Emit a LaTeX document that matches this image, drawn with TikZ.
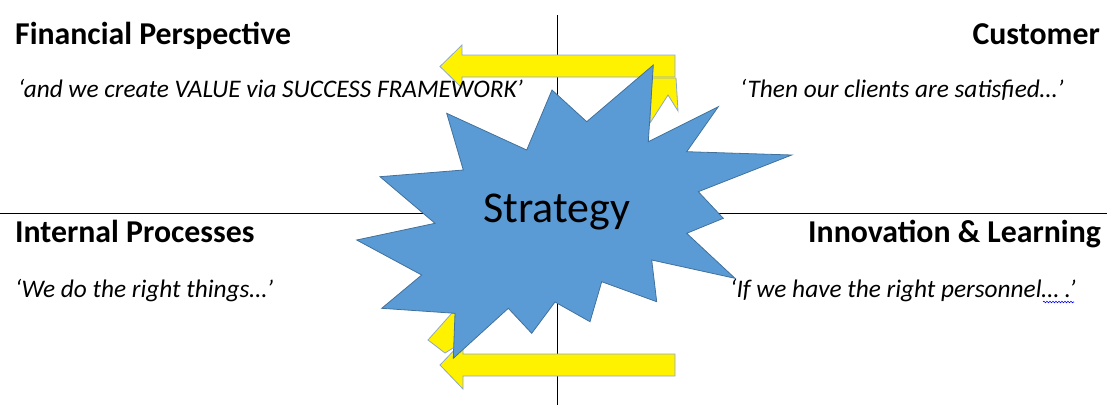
\documentclass[tikz,border=0pt]{standalone}
\usepackage{fontspec}
\setmainfont{Carlito}
\usetikzlibrary{decorations.pathmorphing}
\definecolor{azulstar}{HTML}{5B9BD5}
\definecolor{bordestar}{HTML}{41719C}
\definecolor{bordeflecha}{HTML}{8FA8C8}

\begin{document}
\begin{tikzpicture}[x=1pt,y=-1pt]

	\tikzstyle{eje} = [black, line width=0.8pt]
	\tikzstyle{titulo} = [font=\fontsize{31.8}{36}\selectfont\bfseries, inner sep=0pt]
	\tikzstyle{frase} = [font=\fontsize{25.3}{30}\selectfont\itshape, inner sep=0pt]
	\tikzstyle{flecha} = [fill=yellow, draw=bordeflecha, line width=0.8pt]
	\tikzstyle{estrella} = [fill=azulstar, draw=bordestar, line width=0.8pt]

	\useasboundingbox (0,0) rectangle (1107,405);

	% ejes
	\coordinate (arriba) at (557,15);
	\coordinate (abajo) at (557,405);
	\coordinate (izq) at (0,213);
	\coordinate (der) at (1107,213);
	\draw[eje] (arriba) -- (abajo);
	\draw[eje] (izq) -- (der);

	% flechas
	\draw[flecha] (675,55) -- (462,55) -- (462,45) -- (440,66.5) -- (462,88) -- (462,77) -- (675,77) -- cycle;
	\draw[flecha] (652,78) -- (676,78) -- (678,111) -- (668,95) -- (650,123) -- cycle;
	\draw[flecha] (675,354) -- (463,354) -- (463,341) -- (440,365) -- (463,389) -- (463,376) -- (675,376) -- cycle;
	\draw[flecha] (428,340) -- (452,313) -- (458,313) -- (458,345) -- (445,353) -- cycle;

	% textos
	\node[titulo, anchor=base west] (fin) at (15,44) {Financial Perspective};
	\node[titulo, anchor=base east] (cli) at (1100,44) {Customer};
	\node[frase, anchor=base west] (finfrase) at (18,97) {‘and we create VALUE via SUCCESS FRAMEWORK’};
	\node[frase, anchor=base west] (clifrase) at (740,97) {‘Then our clients are satisfied…’};
	\node[titulo, anchor=base west] (int) at (15,242) {Internal Processes};
	\node[titulo, anchor=base east] (inn) at (1101,242) {Innovation \& Learning};
	\node[frase, anchor=base west] (intfrase) at (15,297) {‘We do the right things…’};
	\node[frase, anchor=base west] (innfrase) at (730,297) {‘If we have the right personnel… .’};
	\draw[blue, line width=0.6pt, decorate, decoration={snake, amplitude=0.8pt, segment length=3pt}] (1043,302) -- (1074,302);

	% estrella
	\draw[estrella] (552,90) -- (586.7,121.7) -- (653.3,65) -- (648.3,141.7) -- (718.3,106.7)
		-- (686.7,151.7) -- (791.7,155) -- (698.3,191.7) -- (723.3,218.3) -- (686.7,233.3)
		-- (735,278.3) -- (651.7,260) -- (656.7,301.7) -- (601.7,281.7) -- (590,321.7)
		-- (555,302) -- (531.7,333.3) -- (508.3,308.3) -- (453.3,358.3) -- (455,313.3)
		-- (381.7,308.3) -- (421.7,275) -- (356.7,240) -- (435,223.3) -- (380,176.7)
		-- (463.3,170) -- (446.7,113.3) -- (526.7,150) -- cycle;
	\node[font=\fontsize{44}{50}\selectfont] (estr) at (557,212) {Strategy};

\end{tikzpicture}
\end{document}
